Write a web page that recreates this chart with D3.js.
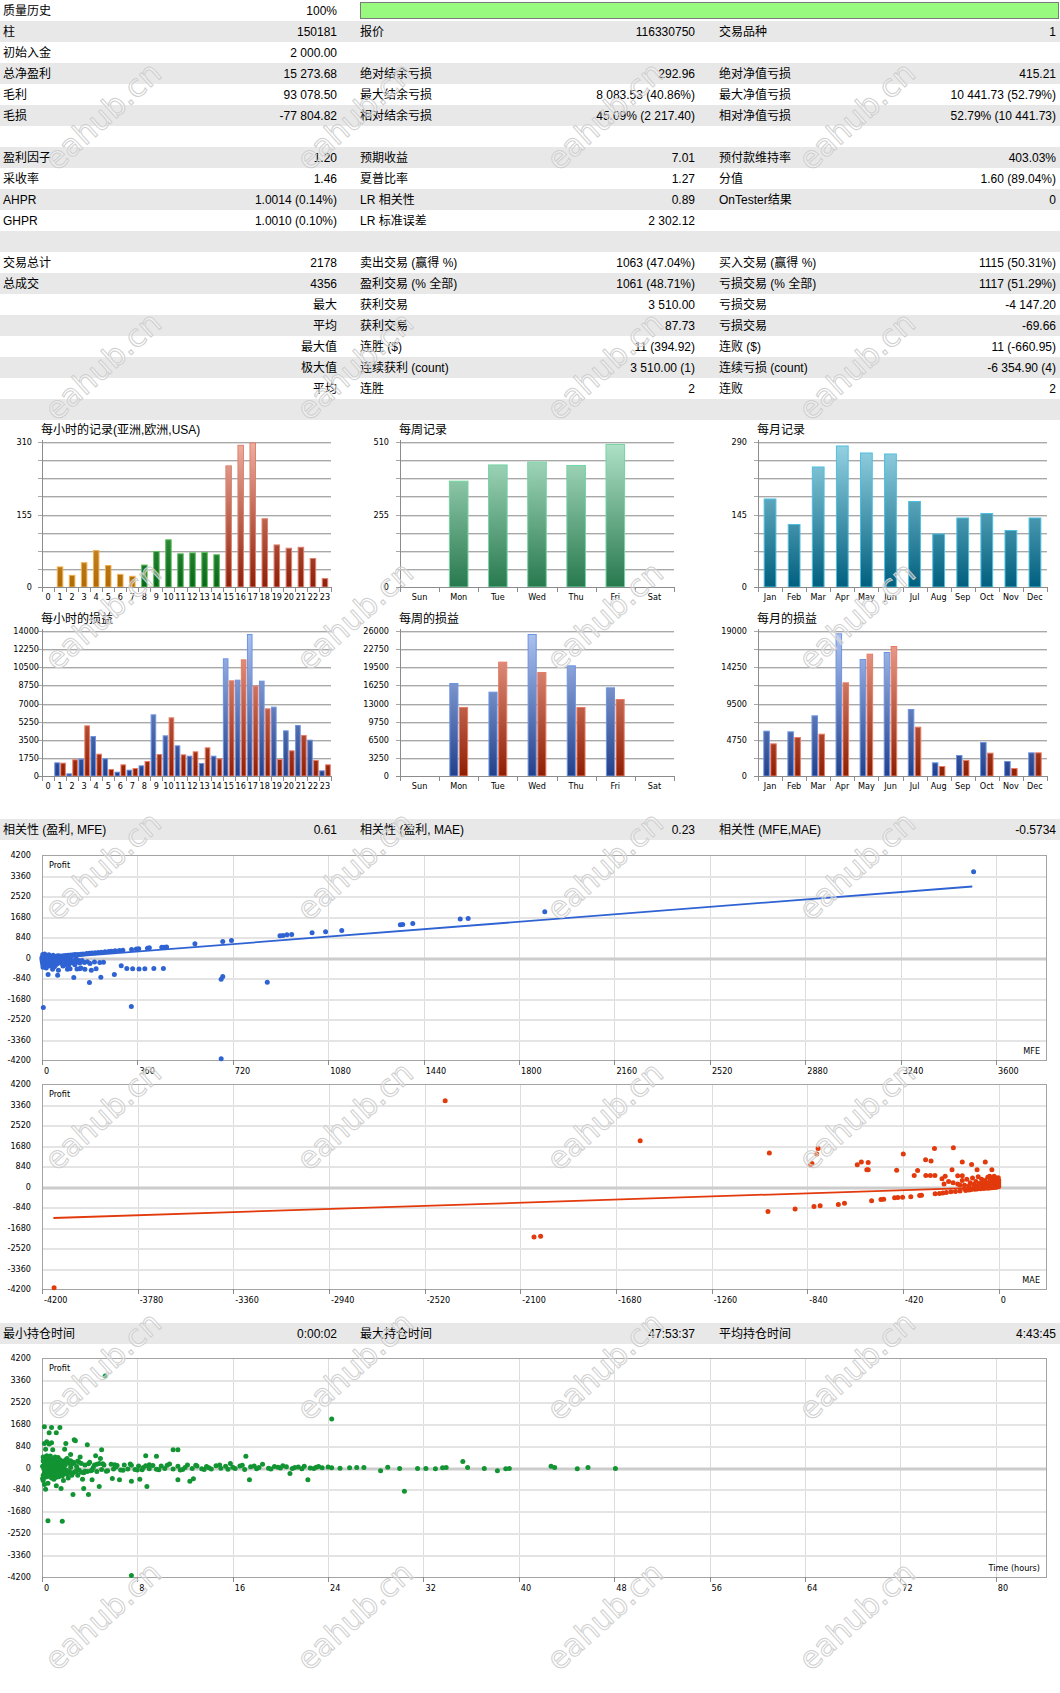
<!DOCTYPE html>
<html lang="zh">
<head>
<meta charset="UTF-8">
<title>策略测试报告</title>
<script src="https://d3js.org/d3.v7.min.js"></script>
<style>
  body { margin: 0; background: #fff; }
  svg { display: block; font-family: "Liberation Sans", "Noto Sans CJK SC", sans-serif; }
  .small { font-family: "DejaVu Sans Condensed", "Liberation Sans Narrow", sans-serif; font-size: 9px; fill: #000; }
</style>
</head>
<body>
<svg></svg>
<script>
const width = 1060, height = 1693;

// ---------- summary table ----------
const statRows = [
  ["质量历史", "100%", "", "", "", ""],
  ["柱", "150181", "报价", "116330750", "交易品种", "1"],
  ["初始入金", "2 000.00", "", "", "", ""],
  ["总净盈利", "15 273.68", "绝对结余亏损", "292.96", "绝对净值亏损", "415.21"],
  ["毛利", "93 078.50", "最大结余亏损", "8 083.53 (40.86%)", "最大净值亏损", "10 441.73 (52.79%)"],
  ["毛损", "-77 804.82", "相对结余亏损", "45.09% (2 217.40)", "相对净值亏损", "52.79% (10 441.73)"],
  ["", "", "", "", "", ""],
  ["盈利因子", "1.20", "预期收益", "7.01", "预付款维持率", "403.03%"],
  ["采收率", "1.46", "夏普比率", "1.27", "分值", "1.60 (89.04%)"],
  ["AHPR", "1.0014 (0.14%)", "LR 相关性", "0.89", "OnTester结果", "0"],
  ["GHPR", "1.0010 (0.10%)", "LR 标准误差", "2 302.12", "", ""],
  ["", "", "", "", "", ""],
  ["交易总计", "2178", "卖出交易 (赢得 %)", "1063 (47.04%)", "买入交易 (赢得 %)", "1115 (50.31%)"],
  ["总成交", "4356", "盈利交易 (% 全部)", "1061 (48.71%)", "亏损交易 (% 全部)", "1117 (51.29%)"],
  ["", "最大", "获利交易", "3 510.00", "亏损交易", "-4 147.20"],
  ["", "平均", "获利交易", "87.73", "亏损交易", "-69.66"],
  ["", "最大值", "连胜 ($)", "11 (394.92)", "连败 ($)", "11 (-660.95)"],
  ["", "极大值", "连续获利 (count)", "3 510.00 (1)", "连续亏损 (count)", "-6 354.90 (4)"],
  ["", "平均", "连胜", "2", "连败", "2"],
  ["", "", "", "", "", ""]
];
const historyQuality = 1.0;
const corrRow = ["相关性 (盈利, MFE)", "0.61", "相关性 (盈利, MAE)", "0.23", "相关性 (MFE,MAE)", "-0.5734"];
const holdRow = ["最小持仓时间", "0:00:02", "最大持仓时间", "47:53:37", "平均持仓时间", "4:43:45"];

// ---------- bar chart data ----------
const hours = ["0","1","2","3","4","5","6","7","8","9","10","11","12","13","14","15","16","17","18","19","20","21","22","23"];
const days = ["Sun","Mon","Tue","Wed","Thu","Fri","Sat"];
const months = ["Jan","Feb","Mar","Apr","May","Jun","Jul","Aug","Sep","Oct","Nov","Dec"];

const hourTrades = [0,44,26,53,79,47,28,24,48,77,102,72,74,75,70,260,304,309,147,91,84,86,62,19];
const dayTrades = [0,374,431,441,429,503,0];
const monthTrades = [177,126,241,283,269,267,172,107,139,148,114,139];

const hourProfit = [0,1320,257,1674,3862,1706,418,611,1030,5954,3926,2961,1963,1255,1963,11361,9301,13710,9205,6694,4409,4924,3508,547];
const hourLoss   = [0,1290,1609,4892,2156,676,1126,772,1448,2124,5664,2092,2382,2768,1706,9237,11264,8722,6533,1641,2478,3959,1545,1126];
const dayProfit = [0,16676,15122,25462,19844,15899,0];
const dayLoss   = [0,12372,20501,18648,12372,13807,0];
const monthProfit = [5940,5853,7949,18694,15331,16248,8779,1791,2752,4455,1966,3101];
const monthLoss   = [4280,5110,5547,12273,16030,17034,6464,1310,2097,3057,1048,3101];

const hourTradeTicks = [0,155,310];
const dayTradeTicks = [0,255,510];
const monthTradeTicks = [0,145,290];
const hourPLTicks = [0,1750,3500,5250,7000,8750,10500,12250,14000];
const dayPLTicks = [0,3250,6500,9750,13000,16250,19500,22750,26000];
const monthPLTicks = [0,4750,9500,14250,19000];

// ---------- scatter data ----------
const profitTicks = [-4200,-3360,-2520,-1680,-840,0,840,1680,2520,3360,4200];
const mfeTicks = [0,360,720,1080,1440,1800,2160,2520,2880,3240,3600];
const maeTicks = [-4200,-3780,-3360,-2940,-2520,-2100,-1680,-1260,-840,-420,0];
const holdTicks = [0,8,16,24,32,40,48,56,64,72,80];

const mfeTrend = [[0,-60],[3510,2910]];
const maeTrend = [[-4150,-1290],[-10,-25]];

const mfePoints = [
  [3515,3510],[1897,1870],[1608,1600],[1578,1573],[1399,1395],[1361,1354],[1352,1345],[1131,1108],[1070,1053],[1019,1012],
  [942,944],[924,930],[909,903],[898,896],[715,698],[682,657],[577,561],[470,432],[462,424],[452,420],[405,396],[398,384],
  [365,360],[356,345],[338,326],[305,300],[292,288],[276,272],[262,255],[252,246],[238,232],[224,218],[212,204],[200,194],
  [188,182],[178,170],[168,160],[155,148],[146,138],[136,128],[126,118],[118,110],[108,100],[98,92],[90,84],[82,76],[72,66],
  [64,58],[55,50],[46,42],[38,33],[30,26],[22,18],[14,10],[8,4],
  [3,120],[6,80],[10,140],[18,60],[26,110],[34,40],[42,90],[52,20],[60,70],[70,30],[80,50],[96,40],[110,60],[128,20],
  [2,-40],[5,-90],[8,-140],[12,-190],[15,-240],[20,-300],[24,-120],[28,-60],[33,-180],[38,-320],[44,-220],[48,-90],
  [53,-150],[58,-260],[64,-30],[68,-190],[74,-110],[79,-350],[85,-70],[90,-230],[96,-150],[101,-300],[106,-50],[112,-200],
  [117,-130],[122,-250],[127,-90],[133,-170],[142,-230],[151,-120],[160,-200],[171,-170],[181,-250],[198,-180],[218,-200],
  [232,-190],[10,-60],[18,-20],[30,-100],[45,-40],[70,-70],[92,-20],
  [6,-250],[14,-330],[22,-200],[36,-260],[50,-330],[62,-140],[76,-260],[88,-310],[104,-240],[124,-300],[138,-120],
  [11,-380],[27,-350],[46,-380],[2,-200],[1,-20],[4,40],[16,-100],[40,-140],
  [5,-2052],[337,-2011],[676,-4147],[682,-780],[676,-889],[850,-1012],[179,-1026],[222,-807],[273,-698],[120,-821],
  [59,-725],[23,-698],[299,-342],[320,-450],[342,-460],[366,-470],[388,-460],[422,-450],[458,-455],[142,-460],[186,-520],
  [204,-460],[132,-470],[96,-480],[106,-460],[147,-430],[162,-480],[62,-520],[40,-480],[16,-430],[4,-400],[3,-300],
  [1,-150],[0,-80],[0,0]
];

const maePoints = [
  [-4147,-4147],[-2430,3510],[-1574,1874],[-2040,-2066],[-2011,-2038],[-1007,1368],[-1013,-1026],[-894,-917],[-826,889],
  [-820,944],[-799,1327],[-793,1560],[-811,-821],[-784,-793],[-704,-739],[-677,-684],[-621,889],[-603,999],[-573,985],
  [-579,684],[-573,684],[-558,-588],[-517,-534],[-505,-520],[-457,-465],[-443,-451],[-448,670],[-419,1327],[-422,-438],
  [-386,-424],[-347,-369],[-339,-356],[-371,451],[-356,657],[-321,1094],[-297,1040],[-320,451],[-300,451],[-280,451],
  [-282,1560],[-279,-301],[-260,-290],[-245,-270],[-230,-250],[-249,315],[-235,424],[-199,1587],[-205,684],[-180,440],
  [-160,440],[-160,999],[-119,903],[-95,684],[-59,999],[-30,684],
  [-220,200],[-200,150],[-190,-200],[-180,100],[-170,-180],[-160,250],[-150,50],[-145,-160],[-140,300],[-130,-140],
  [-125,150],[-120,-120],[-115,350],[-110,80],[-105,-110],[-100,200],[-95,-100],[-90,400],[-85,120],[-80,-90],[-75,300],
  [-70,50],[-65,-80],[-60,250],[-55,150],[-50,-70],[-48,380],[-45,100],[-40,-60],[-38,200],[-35,300],[-30,-50],[-28,50],
  [-25,150],[-22,-40],[-20,250],[-18,100],[-15,-30],[-12,350],[-10,50],[-8,-20],[-6,200],[-5,120],[-4,-10],[-3,300],
  [-2,80],[-1,20],[0,150],[0,-5],[0,250],[0,60],[-30,130],[-60,-30],[-90,-40],[-110,-60],[-130,30],[-150,-90],[-170,60],
  [-210,-220],[-240,100],[-40,420],[-20,420],[-70,180],[-15,320],[-8,180],[-2,360],[-25,-20],[-50,20],[-100,10]
];

const holdPoints = [
  [5.3,3510],[24.3,1859],[7.5,-4147],[0.5,-2038],[1.7,-2064],[30.4,-910],[0.2,1564],[0.8,1538],[1.5,1538],[0.6,1333],
  [1.2,1333],[0.2,923],[0.4,990],[0.8,950],[0.6,900],[2.0,923],[2.7,1064],[2.8,1026],[3.8,872],[5.0,680],[4.9,346],
  [11.0,680],[11.4,680],[8.7,449],[9.6,436],[17.1,436],[35.3,231],[35.7,0],[42.7,51],[43.0,0],[44.9,-51],[45.8,0],
  [48.1,-38],[38.2,-128],[38.9,-51],[39.2,-38],[37.1,-38],[33.6,-13],[33.9,0],[33.0,-51],[32.2,-38],[31.5,-38],[30.0,-38],
  [29.0,13],[28.4,-128],[27.0,0],[26.4,0],[25.8,-13],[25.0,-25],[24.3,-13],[22.3,-474],[20.8,-231],[17.4,-474],
  [11.4,-474],[12.4,-526],[12.7,-436],[8.8,-731],[8.2,-449],[7.5,-526],[6.5,-474],[5.9,-423],[4.8,-731],[4.2,-474],
  [3.5,-808],[3.9,-1038],[2.6,-1038],[1.6,-808],[0.3,-833],
  [0.3,700],[0.9,680],[1.2,-700],[0.5,-600],[1.8,-500],[2.2,-400],[0.1,-500],[0.2,-650],[1.0,-450],[1.9,700],[2.4,500],
  [3.2,400],[4.5,450],[3.0,-300],[3.4,-450],
  [0.1,400],[0.1,-300],[0.2,200],[0.2,-200],[0.3,300],[0.3,-100],[0.4,450],[0.4,-350],[0.5,100],[0.5,-250],[0.6,350],
  [0.7,-150],[0.8,250],[0.9,-300],[1.0,150],[1.0,-100],[1.1,400],[1.2,-200],[1.3,200],[1.4,-350],[1.5,300],[1.6,-150],
  [1.7,100],[1.8,-250],[1.9,250],[2.0,-100],[2.1,350],[2.2,-200],[2.3,150],[2.5,-300],[2.6,200],[2.8,-150],[3.0,250],
  [3.1,-100],[3.3,150],[3.5,-200],[3.6,100],[3.8,-150],[4.0,200],[4.2,-100],[4.4,100],[4.6,-150],[4.8,150],[5.0,-80],
  [5.2,100],[5.5,-120],[5.8,120],[6.0,-60],[6.3,80],[6.6,-100],[6.9,100],[7.2,-60],[7.5,90],[7.8,-80],[8.1,60],[8.4,-90],
  [8.7,70],[9.0,-50],[9.3,80],[9.6,-70],[10.0,60],[10.3,-40],[10.7,130],[11.0,-60],[11.4,50],[11.8,-80],[12.2,100],
  [12.6,-40],[13.0,60],[13.4,-50],[13.8,40],[14.2,-60],[14.6,70],[15.0,-30],[15.4,50],[15.8,150],[16.2,-40],[16.6,60],
  [17.0,-80],[17.5,30],[18.0,-50],[18.5,120],[19.0,-30],[19.5,40],[20.0,-20],[20.5,30],[21.0,-40],[21.5,20],[22.0,50],
  [22.5,-20],[23.0,10],[23.5,-10],[2.4,0],[4.3,0],[6.2,20],[8.5,0],[12.0,0],[14.0,-10],[16.0,10],[18.2,0],[19.8,10],[21.2,0],
  [0.05,50],[0.15,-50],[0.25,120],[0.35,-180],[0.45,20],[0.55,160],[0.65,-60],[0.75,80],[0.85,-200],[0.95,40],[1.05,-30],
  [1.15,90],[1.25,-120],[1.35,60],[1.45,-40],[1.55,130],[1.65,-90],[1.75,30],[1.85,-60],[1.95,100],
  [0.05,-420],[0.1,250],[0.15,330],[0.2,-380],[0.25,-40],[0.3,150],[0.35,420],[0.4,-220],[0.45,280],[0.5,380],[0.55,-330],
  [0.6,-120],[0.65,230],[0.7,440],[0.75,-280],[0.8,-400],[0.85,120],[0.9,330],[0.95,-180],[1.05,280],[1.1,-280],
  [1.15,-380],[1.2,120],[1.3,-260],[1.35,380],[1.4,150],[1.5,-220],[1.6,260],[1.7,-330],[1.8,180],[1.9,-120],[2.0,300],
  [2.1,-260],[2.2,220],[2.3,-150],[2.4,260],[2.5,120],[2.6,-200],[2.7,180],[2.9,-120],[3.1,200],[3.3,-180],[3.6,-140],
  [3.9,140],[4.1,-120],[4.6,120],[5.1,140],[5.4,-140],[6.1,110],[6.8,-110],[7.4,130],[8.0,-100],[9.0,110],[9.8,-90],
  [10.5,90],[11.6,-100],[12.9,90],[13.6,-80],[14.9,100],[15.6,-70],[16.8,90],[17.8,60],[19.2,-60],[20.2,70],[21.8,-50],
  [23.2,40],[24.0,20],[22.8,-40],[1.2,40],[0.7,-40],[0.3,0],[2.9,40]
];

// watermark grid
const markX = [110, 362, 612, 864];
const markY = [124, 374, 624, 874, 1124, 1374, 1624];

// ---------- drawing ----------
const svg = d3.select("svg").attr("width", width).attr("height", height);
const defs = svg.append("defs");

function grad(id, y1, y2, c1, c2) {
  const lg = defs.append("linearGradient").attr("id", id)
    .attr("gradientUnits", "userSpaceOnUse")
    .attr("x1", 0).attr("x2", 0).attr("y1", y1).attr("y2", y2);
  lg.append("stop").attr("offset", "0%").attr("stop-color", c1);
  lg.append("stop").attr("offset", "100%").attr("stop-color", c2);
  return `url(#${id})`;
}

const rowH = 21;
const cols = [{lx: 3, vx: 337}, {lx: 360, vx: 695}, {lx: 719, vx: 1056}];

function tableRow(r, top, gray) {
  if (gray) svg.append("rect").attr("x", 0).attr("y", top).attr("width", width).attr("height", rowH).attr("fill", "#e8e8e8");
  cols.forEach((c, ci) => {
    svg.append("text").attr("x", c.lx).attr("y", top + 15).attr("font-size", 12).text(r[ci * 2]);
    svg.append("text").attr("x", c.vx).attr("y", top + 15).attr("font-size", 12)
      .attr("text-anchor", "end").text(r[ci * 2 + 1]);
  });
}

statRows.forEach((r, i) => tableRow(r, i * rowH, i % 2 === 1));
const qx = d3.scaleLinear().domain([0, 1]).range([360, 1058]);
svg.append("rect").attr("x", qx(0) + 0.5).attr("y", 2.5).attr("width", qx(historyQuality) - qx(0)).attr("height", 16)
  .attr("fill", "#98fb80").attr("stroke", "#7a7a7a");

// bar charts
function barChart(o) {
  const g = svg.append("g");
  const xs = d3.scaleBand().domain(o.cats).range([o.x0, o.x1]);
  const y = d3.scaleLinear().domain([0, o.ymax]).range([o.bottom, o.top]);
  const step = xs.bandwidth();
  const grid = d3.range(1, 9).map(i => o.ymax * i / 8);

  g.selectAll(".g1").data(grid).join("line")
    .attr("x1", o.x0 - 4).attr("x2", o.x1)
    .attr("y1", d => Math.round(y(d)) + 0.5).attr("y2", d => Math.round(y(d)) + 0.5)
    .attr("stroke", "#a8a8a8");
  g.selectAll(".g2").data(grid).join("line")
    .attr("x1", o.x0).attr("x2", o.x1)
    .attr("y1", d => Math.round(y(d)) + 1.5).attr("y2", d => Math.round(y(d)) + 1.5)
    .attr("stroke", "#dedede");

  const bw = step * (1 - o.pad);
  const sub = d3.scaleBand().domain(d3.range(o.series.length)).range([0, bw])
    .paddingInner(o.series.length > 1 ? 0.06 : 0);
  o.series.forEach((s, si) => {
    g.append("g").selectAll("rect")
      .data(s.values.map((v, i) => ({v, i, c: o.cats[i]})).filter(d => d.v > 0))
      .join("rect")
      .attr("x", d => xs(d.c) + (step - bw) / 2 + sub(si) + 0.5)
      .attr("y", d => y(d.v) + 0.5)
      .attr("width", sub.bandwidth() - 1)
      .attr("height", d => o.bottom - y(d.v) - 0.5)
      .attr("fill", d => s.fill(d.i))
      .attr("stroke", d => s.stroke(d.i));
  });

  g.append("line").attr("x1", o.x0 - 4).attr("x2", o.x1).attr("y1", o.bottom + 0.5).attr("y2", o.bottom + 0.5).attr("stroke", "#8c8c8c");
  g.append("line").attr("x1", o.x0 + 0.5).attr("x2", o.x0 + 0.5).attr("y1", o.top - 2).attr("y2", o.bottom + 5).attr("stroke", "#8c8c8c");
  g.selectAll(".tk").data(o.cats.slice(1).map(c => xs(c)).concat([o.x1])).join("line")
    .attr("x1", d => Math.round(d) + 0.5).attr("x2", d => Math.round(d) + 0.5)
    .attr("y1", o.bottom).attr("y2", o.bottom + 5).attr("stroke", "#8c8c8c");

  g.selectAll(".yl").data(o.ticks).join("text").attr("class", "small")
    .attr("x", o.x0 - o.labelGap).attr("y", d => y(d) + 3).attr("text-anchor", "end").text(d => d);
  g.selectAll(".xl").data(o.cats).join("text").attr("class", "small")
    .attr("x", d => xs(d) + step / 2).attr("y", o.bottom + 13).attr("text-anchor", "middle").text(d => d);
  g.append("text").attr("x", o.x0 - 1).attr("y", o.top - 8).attr("font-size", 12).text(o.title);
}

const r1 = {top: 442, bottom: 587}, r2 = {top: 631, bottom: 776};
const cH = {x0: 42, x1: 331}, cW = {x0: 400, x1: 674}, cM = {x0: 758, x1: 1047};

const sessionFill = [
  grad("gAsia", r1.top, r1.bottom, "#f3c27a", "#b06a04"),
  grad("gEu", r1.top, r1.bottom, "#7ccc7c", "#086618"),
  grad("gUs", r1.top, r1.bottom, "#eeb0a0", "#8c2008")
];
const sessionStroke = ["#f0b050", "#5cc05c", "#e08070"];
const sessionOf = i => (i < 8 ? 0 : i < 15 ? 1 : 2);

barChart({...r1, ...cH, title: "每小时的记录(亚洲,欧洲,USA)", cats: hours, ymax: 310, ticks: hourTradeTicks, labelGap: 10, pad: 0.46,
  series: [{values: hourTrades, fill: i => sessionFill[sessionOf(i)], stroke: i => sessionStroke[sessionOf(i)]}]});
const wkFill = grad("gWeek", r1.top, r1.bottom, "#b0e2c8", "#28794e");
barChart({...r1, ...cW, title: "每周记录", cats: days, ymax: 510, ticks: dayTradeTicks, labelGap: 11, pad: 0.5,
  series: [{values: dayTrades, fill: () => wkFill, stroke: () => "#74d4a4"}]});
const moFill = grad("gMonth", r1.top, r1.bottom, "#98d4e4", "#005f7e");
barChart({...r1, ...cM, title: "每月记录", cats: months, ymax: 290, ticks: monthTradeTicks, labelGap: 11, pad: 0.47,
  series: [{values: monthTrades, fill: () => moFill, stroke: () => "#4cc0e0"}]});

const plBlue = grad("gBlue", r2.top, r2.bottom, "#aec4f2", "#22408a");
const plRed = grad("gRed", r2.top, r2.bottom, "#f2a898", "#8e1e02");
const plSeries = (p, l) => [
  {values: p, fill: () => plBlue, stroke: () => "#6c94e4"},
  {values: l, fill: () => plRed, stroke: () => "#ea7c64"}
];
barChart({...r2, ...cH, title: "每小时的损益", cats: hours, ymax: 14000, ticks: hourPLTicks, labelGap: 3, pad: 0.04,
  series: plSeries(hourProfit, hourLoss)});
barChart({...r2, ...cW, title: "每周的损益", cats: days, ymax: 26000, ticks: dayPLTicks, labelGap: 11, pad: 0.52,
  series: plSeries(dayProfit, dayLoss)});
barChart({...r2, ...cM, title: "每月的损益", cats: months, ymax: 19000, ticks: monthPLTicks, labelGap: 11, pad: 0.44,
  series: plSeries(monthProfit, monthLoss)});

// scatter charts
function scatter(o) {
  const g = svg.append("g");
  const x = d3.scaleLinear().domain(o.xDomain).range([42, 1047]);
  const y = d3.scaleLinear().domain([-4200, 4200]).range([o.bottom, o.top]);

  g.selectAll(".vg").data(o.xTicks.slice(1)).join("line")
    .attr("x1", d => Math.round(x(d)) + 0.5).attr("x2", d => Math.round(x(d)) + 0.5)
    .attr("y1", o.top).attr("y2", o.bottom).attr("stroke", "#dcdcdc");
  g.selectAll(".hg").data(profitTicks.slice(1, -1)).join("line")
    .attr("x1", 42).attr("x2", 1047).attr("y1", d => Math.round(y(d)) + 1).attr("y2", d => Math.round(y(d)) + 1)
    .attr("stroke", d => d === 0 ? "#cccccc" : "#e4e4e4").attr("stroke-width", d => d === 0 ? 3 : 2);
  g.append("rect").attr("x", 42.5).attr("y", o.top + 0.5).attr("width", 1004).attr("height", o.bottom - o.top)
    .attr("fill", "none").attr("stroke", "#a4a4a4");
  g.selectAll(".xt").data(o.xTicks).join("line")
    .attr("x1", d => Math.round(x(d)) + 0.5).attr("x2", d => Math.round(x(d)) + 0.5)
    .attr("y1", o.bottom).attr("y2", o.bottom + 5).attr("stroke", "#8c8c8c");

  g.selectAll(".yl").data(profitTicks).join("text").attr("class", "small")
    .attr("x", 31).attr("y", d => y(d) + 3).attr("text-anchor", "end").text(d => d);
  g.selectAll(".xl").data(o.xTicks).join("text").attr("class", "small")
    .attr("x", d => x(d) + 2).attr("y", o.bottom + 14).attr("text-anchor", "start").text(d => d);
  g.append("text").attr("class", "small").attr("x", 49).attr("y", o.top + 13).text("Profit");
  g.append("text").attr("class", "small").attr("x", 1040).attr("y", o.bottom - 6).attr("text-anchor", "end").text(o.xLabel);

  if (o.trend) {
    g.append("line")
      .attr("x1", x(o.trend[0][0])).attr("y1", y(o.trend[0][1]))
      .attr("x2", x(o.trend[1][0])).attr("y2", y(o.trend[1][1]))
      .attr("stroke", o.color).attr("stroke-width", 1.8);
  }
  g.append("g").selectAll("circle").data(o.points).join("circle")
    .attr("cx", d => x(d[0])).attr("cy", d => y(d[1])).attr("r", 2.5).attr("fill", o.color);
}

tableRow(corrRow, 819, true);
scatter({top: 855, bottom: 1060, xDomain: [0, 3792], xTicks: mfeTicks, points: mfePoints, color: "#2f63d3", trend: mfeTrend, xLabel: "MFE"});
scatter({top: 1084, bottom: 1289, xDomain: [-4200, 212], xTicks: maeTicks, points: maePoints, color: "#e23a0c", trend: maeTrend, xLabel: "MAE"});
tableRow(holdRow, 1323, true);
scatter({top: 1358, bottom: 1577, xDomain: [0, 84.3], xTicks: holdTicks, points: holdPoints, color: "#129433", trend: null, xLabel: "Time (hours)"});

// watermark
const wm = svg.append("g").attr("pointer-events", "none");
markY.forEach(my => markX.forEach(mx => {
  wm.append("text").attr("transform", `translate(${mx},${my}) rotate(-42)`)
    .attr("text-anchor", "middle").attr("font-family", "DejaVu Sans, sans-serif").attr("font-size", 31)
    .attr("fill", "#ffffff").attr("fill-opacity", 0.35).attr("stroke", "#cfcfcf").attr("stroke-width", 1)
    .text("eahub.cn");
}));
</script>
</body>
</html>
